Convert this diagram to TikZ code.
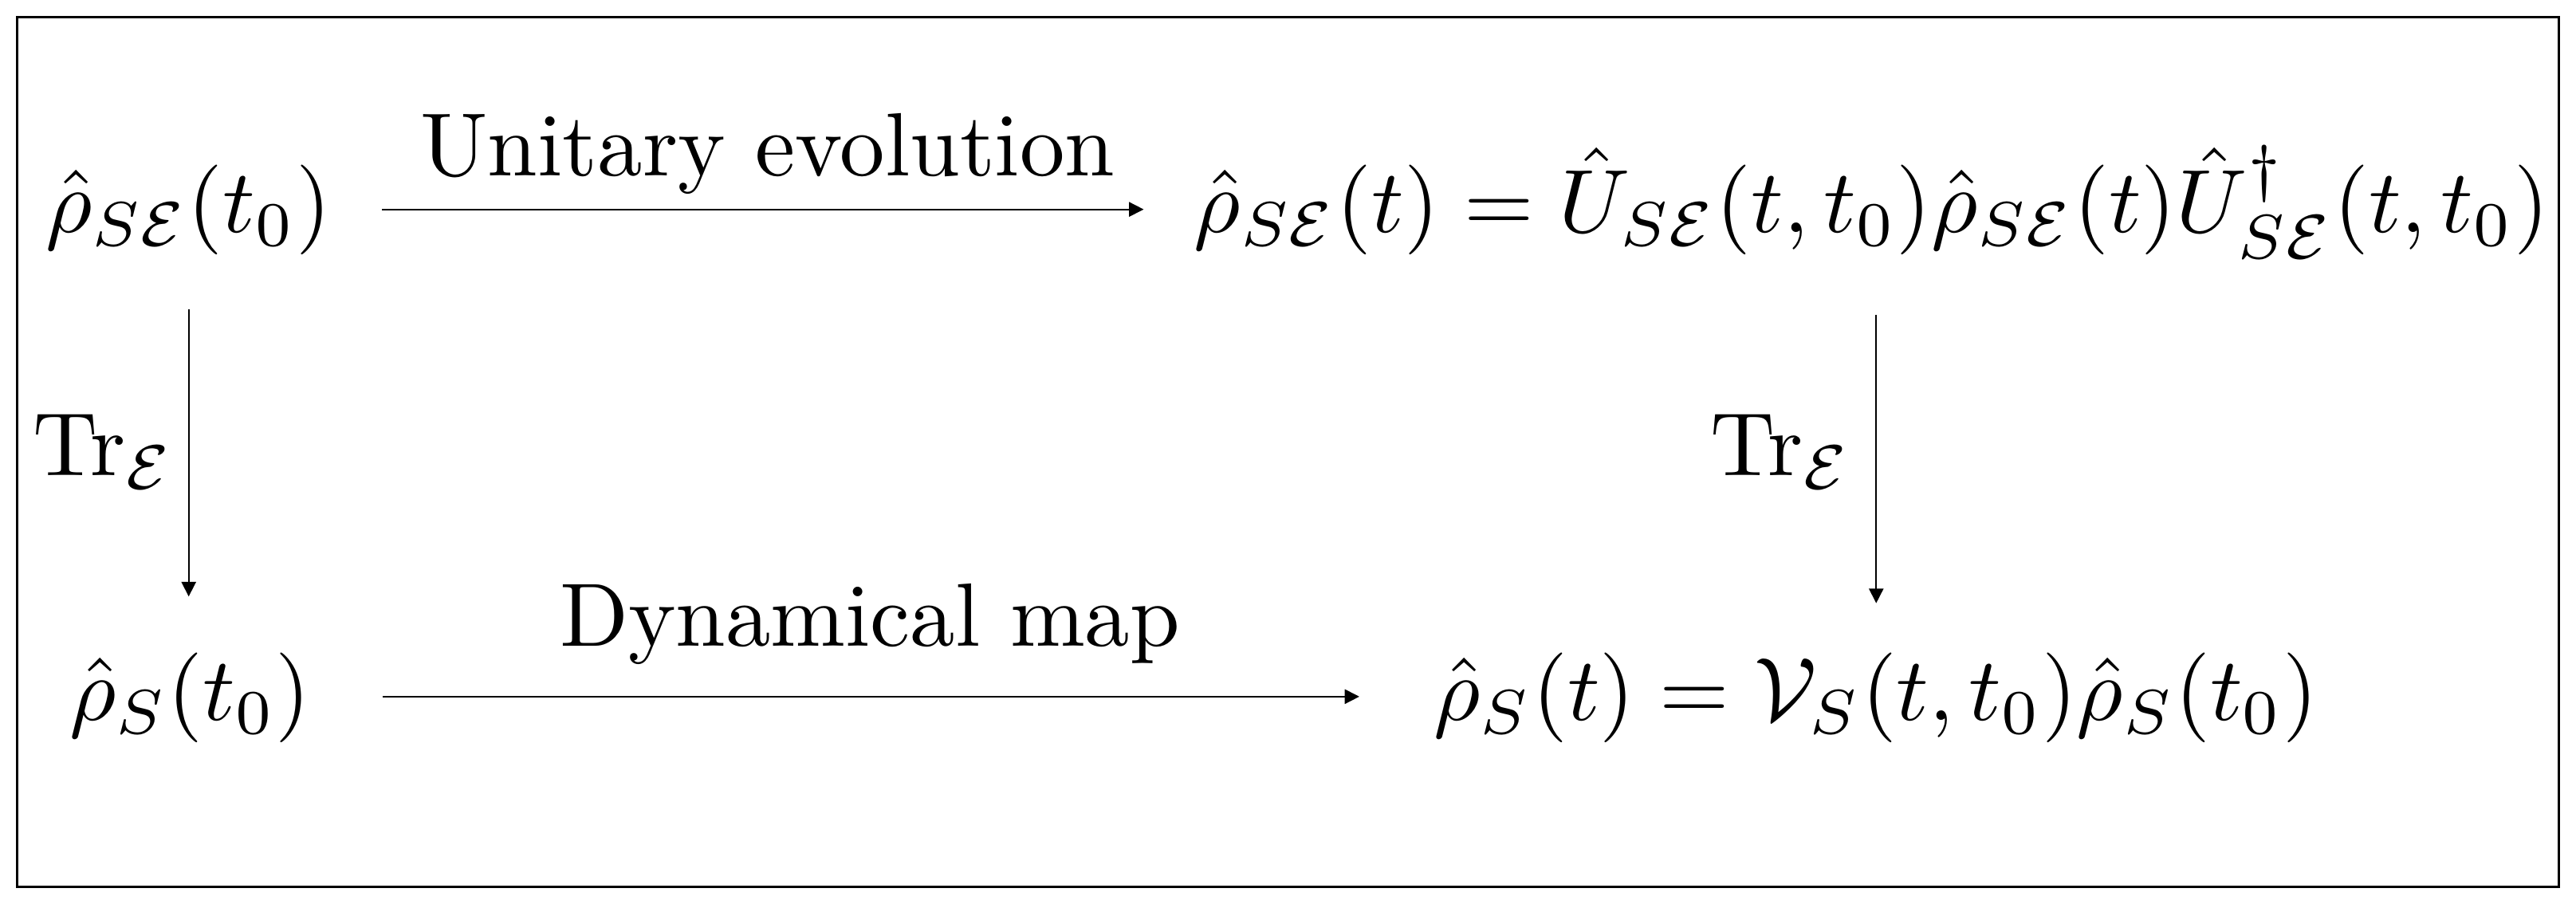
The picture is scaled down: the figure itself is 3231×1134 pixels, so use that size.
\documentclass[tikz,border=0pt]{standalone}
\usetikzlibrary{arrows.meta}
\tikzset{
  mathnode/.style={inner sep=0pt, outer sep=0pt, anchor=base},
  lbl/.style={inner sep=0pt, outer sep=0pt, anchor=base},
  arr/.style={line width=0.2pt, -{Triangle[length=1.62pt,width=1.6pt]}},
  outerframe/.style={line width=0.27pt}
}
\begin{document}
\begin{tikzpicture}[x=0.08873pt,y=-0.08873pt]
\useasboundingbox (0,0) rectangle (3231,1134);
\draw[outerframe] (21.5,21.5) rectangle (3209.5,1112.5);
\node[mathnode] (tl) at (236,291.7) {$\hat\rho_{S\mathcal{E}}(t_0)$};
\node[mathnode] (tr) at (2347.5,291.7) {$\hat\rho_{S\mathcal{E}}(t)=\hat U_{S\mathcal{E}}(t,t_0)\hat\rho_{S\mathcal{E}}(t)\hat U^\dagger_{S\mathcal{E}}(t,t_0)$};
\node[mathnode] (bl) at (238.3,903.4) {$\hat\rho_S(t_0)$};
\node[mathnode] (br) at (2353,903.4) {$\hat\rho_S(t)=\mathcal{V}_S(t,t_0)\hat\rho_S(t_0)$};
\node[lbl] (ue) at (962.8,220.7) {Unitary evolution};
\node[lbl] (dm) at (1091,811) {Dynamical map};
\node[lbl] (trl) at (130,596.7) {$\mathrm{Tr}_{\mathcal{E}}$};
\node[lbl] (trr) at (2234,596.7) {$\mathrm{Tr}_{\mathcal{E}}$};
\draw[arr] ([shift={(243.3,-29)}]tl.base) -- ([shift={(-913,-29)}]tr.base);
\draw[arr] ([shift={(241.7,-29.5)}]bl.base) -- ([shift={(-648,-29.5)}]br.base);
\draw[arr] ([shift={(0.7,96.3)}]tl.base) -- ([shift={(-1.6,-155.1)}]bl.base);
\draw[arr] ([shift={(5.8,103.3)}]tr.base) -- ([shift={(0.3,-146.7)}]br.base);
\end{tikzpicture}
\end{document}
